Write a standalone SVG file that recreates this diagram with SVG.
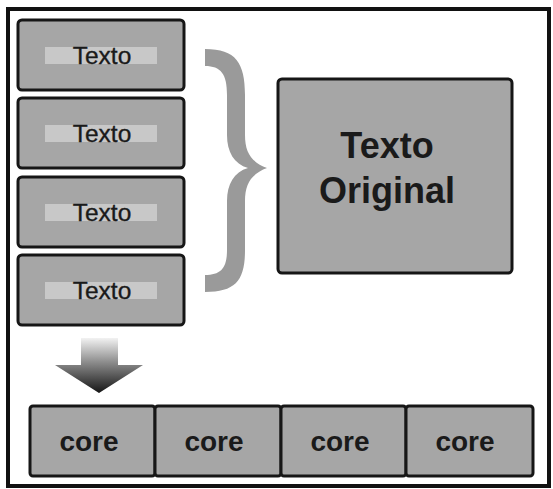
<svg xmlns="http://www.w3.org/2000/svg" width="553" height="489" viewBox="0 0 553 489">
  <style>
    .box { fill: #a6a6a6; stroke: #161616; stroke-width: 3; }
    .band { fill: #c8c8c8; }
    .t { font-family: "Liberation Sans", Arial, sans-serif; fill: #1a1a1a; text-anchor: middle; }
    .small { font-size: 24.5px; stroke: #1a1a1a; stroke-width: 0.35; }
    .big { font-size: 36px; font-weight: bold; }
    .core { font-size: 28px; font-weight: bold; }
  </style>
  <defs>
    <linearGradient id="arrowGrad" x1="0" y1="0" x2="0" y2="1">
      <stop offset="0" stop-color="#f2f2f2"/>
      <stop offset="0.45" stop-color="#8a8a8a"/>
      <stop offset="1" stop-color="#151515"/>
    </linearGradient>
  </defs>
  <rect x="0" y="0" width="553" height="489" fill="#ffffff"/>
  <rect id="frame" x="8" y="9" width="541" height="477" fill="none" stroke="#111" stroke-width="4"/>

  <g id="texto1">
    <rect class="box" x="18" y="20" width="166" height="70" rx="4"/>
    <rect class="band" x="45" y="47" width="112" height="17"/>
    <text class="t small" x="102" y="64">Texto</text>
  </g>
  <g id="texto2">
    <rect class="box" x="18" y="98" width="166" height="70" rx="4"/>
    <rect class="band" x="45" y="125" width="112" height="17"/>
    <text class="t small" x="102" y="142">Texto</text>
  </g>
  <g id="texto3">
    <rect class="box" x="18" y="177" width="166" height="70" rx="4"/>
    <rect class="band" x="45" y="204" width="112" height="17"/>
    <text class="t small" x="102" y="221">Texto</text>
  </g>
  <g id="texto4">
    <rect class="box" x="18" y="255" width="166" height="70" rx="4"/>
    <rect class="band" x="45" y="282" width="112" height="17"/>
    <text class="t small" x="102" y="299">Texto</text>
  </g>

  <g id="original">
    <rect class="box" x="278" y="79" width="234" height="194" rx="4"/>
    <text class="t big" x="387" y="158">Texto</text>
    <text class="t big" x="387" y="203">Original</text>
  </g>

  <g id="connectors">
    <path id="brace" fill="#9a9a9a" d="M205,49 C236,49 245,63 245,95 L245,135 C245,152 251,162 267,168 C251,174 245,184 245,201 L245,250 C245,280 236,292 205,292 L205,275 C221,275 227,268 227,250 L227,201 C227,184 234,172 248,168 C234,164 227,152 227,135 L227,95 C227,74 221,66 205,66 Z"/>
    <path id="arrow" fill="url(#arrowGrad)" d="M81,338 L118,338 L118,365 L143,365 L99,393 L55,365 L81,365 Z"/>
  </g>

  <g id="core1">
    <rect class="box" x="30" y="406" width="125" height="70" rx="3"/>
    <text class="t core" x="89" y="451">core</text>
  </g>
  <g id="core2">
    <rect class="box" x="155" y="406" width="126" height="70" rx="3"/>
    <text class="t core" x="214" y="451">core</text>
  </g>
  <g id="core3">
    <rect class="box" x="281" y="406" width="125" height="70" rx="3"/>
    <text class="t core" x="340" y="451">core</text>
  </g>
  <g id="core4">
    <rect class="box" x="406" y="406" width="127" height="70" rx="3"/>
    <text class="t core" x="465" y="451">core</text>
  </g>
</svg>
